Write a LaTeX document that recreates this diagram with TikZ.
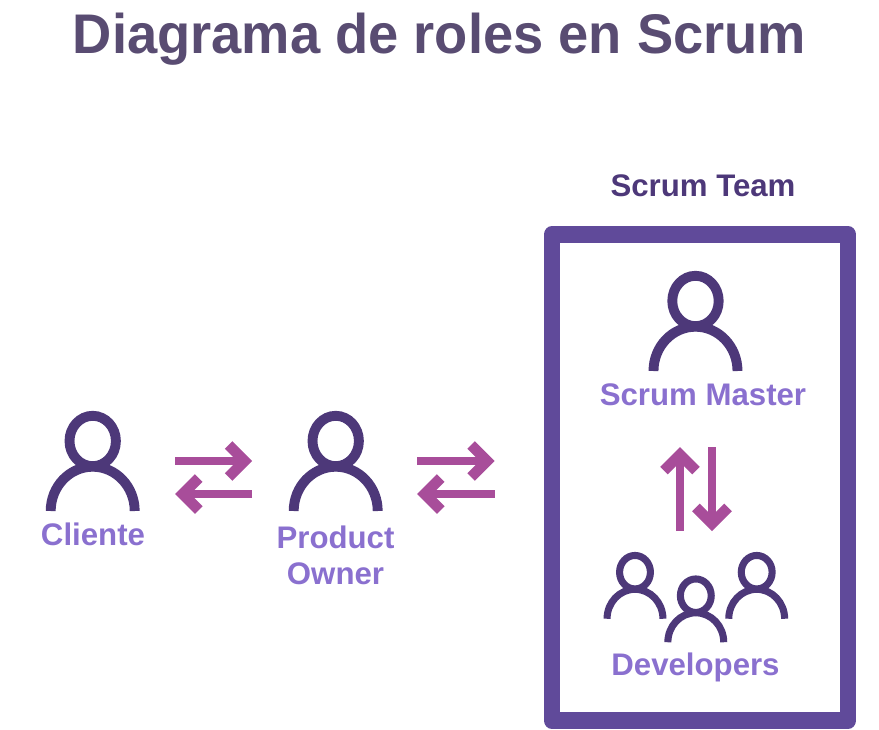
\documentclass[tikz,border=0pt]{standalone}
\usepackage{fontspec}
\setmainfont{Liberation Sans}
\newfontfamily\titulofont{Liberation Sans}[FakeStretch=.972]
\usetikzlibrary{arrows.meta,calc}
\definecolor{titulo}{HTML}{594C72}
\definecolor{oscuro}{HTML}{4D3879}
\definecolor{marco}{HTML}{604A9A}
\definecolor{claro}{HTML}{8A70CF}
\definecolor{magenta}{HTML}{A84D9A}
\begin{document}
\begin{tikzpicture}[
  x=0.75pt, y=-0.75pt,
  etiqueta/.style={font=\fontsize{23.4}{28}\selectfont\bfseries, text=claro, align=center, inner sep=0pt, anchor=base},
  flecha/.style={draw=magenta, line width=6.6pt,
                 arrows={-Straight Barb[length=12pt, width=24pt, line width=8pt]}},
  persona/.pic={
    \draw[oscuro] (0,-20) ellipse[x radius=23.2, y radius=25.2];
    \draw[oscuro] (-42,50) arc[start angle=180, end angle=360, x radius=42, y radius=44.3];
    \coordinate (-e) at (46.5,0);
    \coordinate (-w) at (-46.5,0);
    \coordinate (-s) at (0,50);
  },
]
\useasboundingbox (0,0) rectangle (879,729);
\node[inner sep=0pt, anchor=base, font=\fontsize{41.9}{50}\titulofont\bfseries, text=titulo] (titulo) at (439.5,53.5) {Diagrama de roles en Scrum};
\node[etiqueta, text=oscuro] (team) at (703,196) {Scrum Team};
\node[draw=marco, line width=12.4pt, line join=round, minimum width=222pt, minimum height=364.5pt, inner sep=0pt] (caja) at (700,477.5) {};
% personas
\pic[line width=7.4pt] (cli) at (92.7,461) {persona};
\pic[line width=7.4pt] (po) at (335.7,461) {persona};
\pic[line width=7.4pt] (master) at (695.5,321) {persona};
\pic[scale=.665, line width=5.3pt] (dev1) at (635,585.5) {persona};
\pic[scale=.665, line width=5.3pt] (dev2) at (695.8,609) {persona};
\pic[scale=.665, line width=5.3pt] (dev3) at (756.7,585.5) {persona};
\node[etiqueta] (cliente) at (93,545) {Cliente};
\node[etiqueta] (product) at (335.5,548) {Product};
\node[etiqueta] (owner) at (335.5,584) {Owner};
\node[etiqueta] (smaster) at (703,405) {Scrum Master};
\node[etiqueta] (devs) at (695.5,675.7) {Developers};
% flechas
\draw[flecha] ($(cli-e)+(36,0)$) -- ($(po-w)+(-37,0)$);
\draw[flecha] ($(po-w)+(-37,33)$) -- ($(cli-e)+(36,33)$);
\draw[flecha] ($(po-e)+(35,0)$) -- ($(caja.west)+(-49,-16.5)$);
\draw[flecha] ($(caja.west)+(-49,16.5)$) -- ($(po-e)+(35,33)$);
\draw[flecha] ($(master-s)+(-15.5,160)$) -- ($(master-s)+(-15.5,76)$);
\draw[flecha] ($(master-s)+(16.5,76)$) -- ($(master-s)+(16.5,160)$);
\end{tikzpicture}
\end{document}
